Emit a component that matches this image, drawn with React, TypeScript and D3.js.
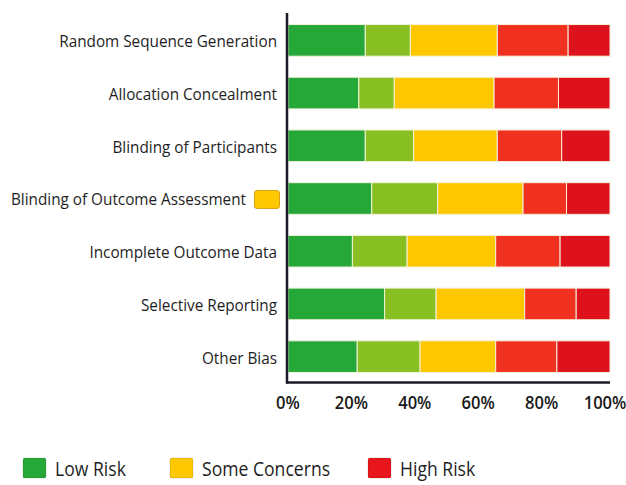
import React, { useEffect, useRef } from "react";
import * as d3 from "d3";

const categories = [
  "Random Sequence Generation",
  "Allocation Concealment",
  "Blinding of Participants",
  "Blinding of Outcome Assessment",
  "Incomplete Outcome Data",
  "Selective Reporting",
  "Other Bias",
];
const lowRisk = [24, 22, 24, 26, 20, 30, 21.5];
const probablyLow = [14, 11, 15, 20.5, 17, 16, 19.5];
const someConcerns = [27, 31, 26, 26.5, 27.5, 27.5, 23.5];
const probablyHigh = [22, 20, 20, 13.5, 20, 16, 19];
const highRisk = [13, 16, 15, 13.5, 15.5, 10.5, 16.5];

const seriesKeys = ["low", "probLow", "some", "probHigh", "high"];
const seriesColors = ["#25a838", "#88c023", "#fdc800", "#f1311f", "#de121c"];

const xTicks = [0, 20, 40, 60, 80, 100];
const legendItems = ["Low Risk", "Some Concerns", "High Risk"];
const legendColors = ["#25a838", "#fdc800", "#e8161c"];

const W = 626;
const H = 485;
const FONT = "'Open Sans', sans-serif";

const App = () => {
  const ref = useRef<SVGSVGElement>(null);

  useEffect(() => {
    const svg = d3.select(ref.current);
    svg.selectAll("*").remove();

    const rows = categories.map((c, i) => ({
      cat: c,
      low: lowRisk[i],
      probLow: probablyLow[i],
      some: someConcerns[i],
      probHigh: probablyHigh[i],
      high: highRisk[i],
    }));

    const x = d3.scaleLinear().domain([0, 100]).range([288, 610]);
    const y = d3
      .scaleBand()
      .domain(categories)
      .range([14, 383])
      .paddingInner(0.4)
      .paddingOuter(0.2);

    const stacked = d3.stack<any>().keys(seriesKeys)(rows);

    svg
      .append("g")
      .selectAll("g")
      .data(stacked)
      .enter()
      .append("g")
      .attr("fill", (d, i) => seriesColors[i])
      .selectAll("rect")
      .data((d) => d)
      .enter()
      .append("rect")
      .attr("x", (d) => x(d[0]))
      .attr("width", (d) => x(d[1]) - x(d[0]))
      .attr("y", (d) => y(d.data.cat)!)
      .attr("height", y.bandwidth())
      .attr("stroke", "#f4f1dc")
      .attr("stroke-width", 1);

    // category labels (slightly condensed like the original)
    svg
      .append("g")
      .selectAll("text")
      .data(categories)
      .enter()
      .append("text")
      .attr(
        "transform",
        (d) =>
          `translate(${d === "Blinding of Outcome Assessment" ? 246 : 277},${
            y(d)! + y.bandwidth() / 2 + 1
          }) scale(0.9,1)`
      )
      .attr("dy", "0.35em")
      .attr("text-anchor", "end")
      .attr("font-family", FONT)
      .attr("font-size", 17)
      .attr("fill", "#1e1e1e")
      .text((d) => d);

    // stray yellow marker next to one label
    const cat4 = categories[3];
    svg
      .append("rect")
      .attr("x", 254.5)
      .attr("y", y(cat4)! + y.bandwidth() / 2 - 8)
      .attr("width", 25)
      .attr("height", 18)
      .attr("rx", 2.5)
      .attr("fill", "#fdc800")
      .attr("stroke", "#dca21a")
      .attr("stroke-width", 1);

    // axes lines
    svg
      .append("line")
      .attr("x1", 287)
      .attr("x2", 287)
      .attr("y1", 13)
      .attr("y2", 383.5)
      .attr("stroke", "#1a1a2a")
      .attr("stroke-width", 2.5);
    svg
      .append("line")
      .attr("x1", 286)
      .attr("x2", x(100))
      .attr("y1", 382.5)
      .attr("y2", 382.5)
      .attr("stroke", "#1a1a2a")
      .attr("stroke-width", 2.5);

    // x tick labels
    svg
      .append("g")
      .selectAll("text")
      .data(xTicks)
      .enter()
      .append("text")
      .attr("transform", (d) => `translate(${x(d) - d * 0.05},409) scale(0.92,1)`)
      .attr("text-anchor", "middle")
      .attr("font-family", FONT)
      .attr("font-size", 18)
      .attr("font-weight", 600)
      .attr("fill", "#1a1a1a")
      .text((d) => d + "%");

    // legend
    const legendX = [23, 170, 368];
    const lg = svg
      .append("g")
      .selectAll("g")
      .data(legendItems)
      .enter()
      .append("g")
      .attr("transform", (d, i) => `translate(${legendX[i]},458)`);
    lg.append("rect")
      .attr("width", 23)
      .attr("height", 20)
      .attr("rx", 1.5)
      .attr("fill", (d, i) => legendColors[i])
      .attr("stroke", "rgba(0,0,0,0.15)")
      .attr("stroke-width", 0.8);
    lg.append("text")
      .attr("transform", "translate(32,18) scale(0.88,1)")
      .attr("font-family", FONT)
      .attr("font-size", 20)
      .attr("fill", "#1e1e1e")
      .text((d) => d);
  }, []);

  return (
    <svg
      ref={ref}
      width={W}
      height={H}
      style={{ position: "absolute", left: 0, top: 0, background: "#fff" }}
    ></svg>
  );
};

export default App;
